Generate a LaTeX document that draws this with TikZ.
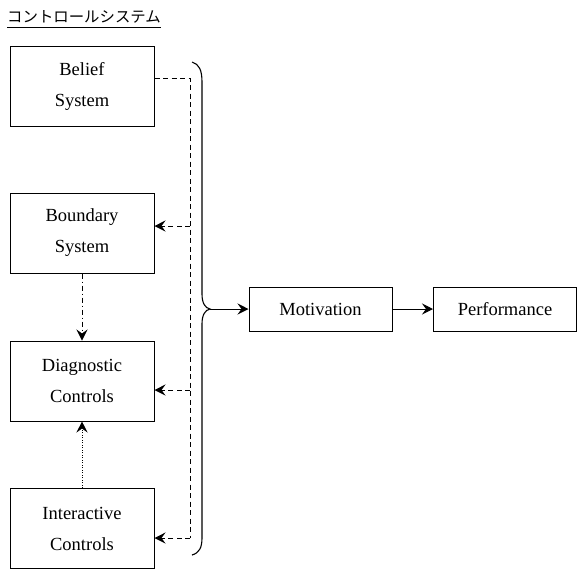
\documentclass[tikz,border=0pt]{standalone}
\usepackage{fontspec}
\setmainfont{Liberation Serif}
\newfontfamily\serifx{Liberation Serif}
\newfontfamily\cjk{Noto Sans CJK JP}
\usetikzlibrary{arrows.meta}
\begin{document}
\begin{tikzpicture}[x=1pt,y=-1pt,
  box/.style={draw,line width=1pt,minimum width=144pt,minimum height=80pt,align=center,inner sep=0pt,font=\serifx\fontsize{18.5}{31}\selectfont},
  sbox/.style={draw,line width=1pt,minimum width=143pt,minimum height=44pt,align=center,inner sep=0pt,font=\serifx\fontsize{18.5}{20}\selectfont},
  arr/.style={line width=1pt,-{Stealth[length=11pt,width=11pt,inset=4pt]}},
  dline/.style={line width=1pt,dash pattern=on 5pt off 3.5pt}]
\useasboundingbox (0,0) rectangle (577,568);
\node[font=\cjk\fontsize{15.4}{15.4}\selectfont,anchor=west,inner sep=0pt] (title) at (7,17) {コントロールシステム};
\draw[line width=0.8pt] (title.south west|-0,27) -- (title.south east|-0,27);
\node[box] (belief) at (82,86) {Belief\\System};
\node[box] (boundary) at (82,233) {Boundary\\System};
\node[box] (diag) at (82,381) {Diagnostic\\Controls};
\node[box] (inter) at (82,528.5) {Interactive\\Controls};
\node[sbox] (mot) at (320.5,309) {Motivation};
\node[sbox] (perf) at (505,309) {Performance};
\coordinate (c1) at (190,78);
\coordinate (c2) at (190,226);
\coordinate (c3) at (190,390);
\coordinate (c4) at (190,538);
\draw[dline] (belief.east|-c1) -- (c1) -- (c4);
\draw[dline,arr] (c2) -- (boundary.east|-c2);
\draw[dline,arr] (c3) -- (diag.east|-c3);
\draw[dline,arr] (c4) -- (inter.east|-c4);
\draw[arr,line width=0.8pt,dash pattern=on 5pt off 3pt on 1pt off 3pt] (boundary.south) -- (diag.north);
\draw[arr,line width=0.8pt,dash pattern=on 1pt off 1.5pt] (inter.north) -- (diag.south);
\coordinate (tip) at (210,309);
\draw[line width=1.1pt] (192,62) .. controls (199,64) and (202,70) .. (202,82)
  -- (202,294) .. controls (202,303) and (205,308) .. (tip)
  .. controls (205,310) and (202,315) .. (202,324)
  -- (202,538) .. controls (202,548) and (199,553) .. (192,555);
\draw[arr] (tip) -- (mot.west);
\draw[arr] (mot.east) -- (perf.west);
\end{tikzpicture}
\end{document}
